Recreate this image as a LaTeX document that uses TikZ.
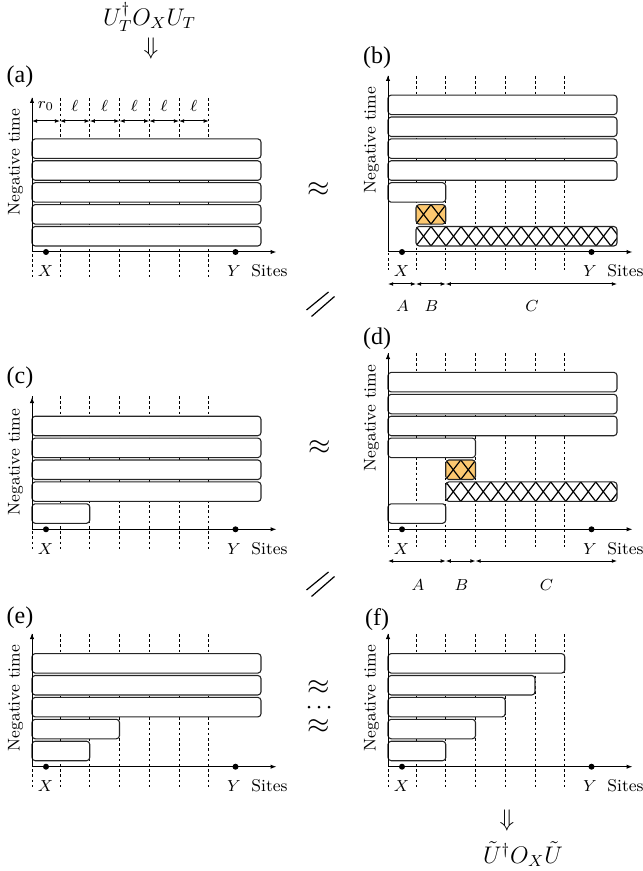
\documentclass[tikz,border=0pt]{standalone}
\usepackage{fontspec}
\newfontfamily\lblfont{Liberation Serif}
\usetikzlibrary{arrows.meta}
\definecolor{hatchorange}{RGB}{252,200,112}

\tikzset{
  every node/.style={font=\fontsize{8.5}{10}\selectfont, inner sep=0pt},
  bar/.style={draw=black!85, fill=white, rounded corners=1.6pt, line width=0.55pt},
  gridline/.style={dash pattern=on 1.3pt off 1.3pt, line width=0.4pt},
  axisline/.style={line width=0.5pt, -{Latex[length=3pt,width=2.2pt]}},
  span/.style={line width=0.5pt, {Latex[length=2.6pt,width=2pt]}-{Latex[length=2.6pt,width=2pt]}},
  panel/.style={font=\lblfont\fontsize{12}{13}\selectfont},
  site/.style={circle, fill=black, minimum size=3pt},
  dotmark/.style={circle, fill=black, minimum size=1.5pt},
  hatchline/.style={line width=0.6pt},
  bigsym/.style={font=\fontsize{14}{16}\selectfont},
  formula/.style={font=\fontsize{12}{14}\selectfont},
}

% dotted site separators: x origin, y top, y bottom
\newcommand\figgrid[3]{%
  \foreach \g in {0,28,57.75,87.5,117.25,147,176.75}
    {\draw[gridline] ({#1+\g},#2) -- ({#1+\g},#3);}}

% plain gate layer: x origin, y origin, row, left offset, right offset
\newcommand\figbar[5]{%
  \draw[bar] ({#1+#4},{#2-25.5-21.9*#3}) rectangle ({#1+#5},{#2-6-21.9*#3});}

% cross-hatched gate layer: x origin, y origin, row, left, right, fill
\newcommand\fighatch[6]{%
  \pgfmathsetmacro\hxa{#1+#4}%
  \pgfmathsetmacro\hxb{#1+#5}%
  \pgfmathsetmacro\hyb{#2-6-21.9*#3}%
  \pgfmathsetmacro\hyt{\hyb-19.5}%
  \pgfmathsetmacro\hym{\hyb-9.75}%
  \pgfmathtruncatemacro\hn{(#5-#4)/15+1}%
  \begin{scope}
    \clip[rounded corners=1.6pt] (\hxa,\hyt) rectangle (\hxb,\hyb);
    \fill[#6] (\hxa,\hyt) rectangle (\hxb,\hyb);
    \foreach \k in {-1,...,\hn}{
      \pgfmathsetmacro\hc{\hxa+7.5+15*\k}
      \draw[hatchline] ({\hc-15},{\hym+19.5}) -- ({\hc+15},{\hym-19.5});
      \draw[hatchline] ({\hc-15},{\hym-19.5}) -- ({\hc+15},{\hym+19.5});
    }
  \end{scope}
  \draw[bar, fill=none] (\hxa,\hyt) rectangle (\hxb,\hyb);}

% axes, sites and axis labels: name, x origin, y origin, y top
\newcommand\figaxes[4]{%
  \coordinate (#1-o) at (#2,#3);
  \coordinate (#1-t) at (#2,#4);
  \coordinate (#1-e) at ({#2+244.5},#3);
  \draw[axisline] (#1-o) -- (#1-t);
  \draw[axisline] (#1-o) -- (#1-e);
  \node[site] (#1-x) at ({#2+14},#3) {};
  \node[site] (#1-y) at ({#2+203.5},#3) {};
  \node[anchor=base] (#1-xl) at ({#2+13.5},{#3+25}) {$X$};
  \node[anchor=base] (#1-yl) at ({#2+202},{#3+25}) {$Y$};
  \node[anchor=base] (#1-s) at ({#2+237.5},{#3+25}) {Sites};
  \node[rotate=90] (#1-nt) at ({#2-16.5},{#4+65}) {Negative time};}

% "//" sign centred on a point
\newcommand\figslash[2]{%
  \draw[line width=0.6pt] ({#1-14},{#2+6}) -- ({#1+8},{#2-12});
  \draw[line width=0.6pt] ({#1-9},{#2+12.5}) -- ({#1+14},{#2-7.5});}

\begin{document}
\begin{tikzpicture}[x=0.5pt, y=-0.5pt]
\useasboundingbox (0,0) rectangle (642,871);

% top and bottom operators
\node[formula] (opT) at (149.5,17) {$U_T^\dagger O_X U_T$};
\node[formula] (impT) at (151,49) {$\Downarrow$};
\node[formula] (impB) at (507,820) {$\Downarrow$};
\node[formula] (opB) at (523,854) {$\tilde U^\dagger O_X \tilde U$};

% ---------------- (a) ----------------
\node[panel] (la) at (20,77) {(a)};
\figgrid{32}{98}{277}
\foreach \r in {0,...,4} {\figbar{32}{252}{\r}{0}{229}}
\draw[span] (32,121) -- (60,121);
\foreach \a/\b in {60/89.75,89.75/119.5,119.5/149.25,149.25/179,179/208.75}
  {\draw[span] (\a,121) -- (\b,121);}
\node (r0) at (46,106) {$r_0$};
\foreach \m [count=\i] in {74.9,104.6,134.4,164.1,193.9}
  {\node (ell\i) at (\m,106) {$\ell$};}
\figaxes{a}{32}{252}{97}

% ---------------- (b) ----------------
\node[panel] (lb) at (377,58) {(b)};
\figgrid{388}{76}{270}
\foreach \r in {3,...,6} {\figbar{388}{252}{\r}{0}{229}}
\figbar{388}{252}{2}{0}{57.75}
\fighatch{388}{252}{1}{28}{57.75}{hatchorange}
\fighatch{388}{252}{0}{28}{229}{white}
\figaxes{b}{388}{252}{75}
\coordinate (bA) at (388,284);
\coordinate (bB) at (416,284);
\coordinate (bC) at (445.75,284);
\coordinate (bD) at (617,284);
\draw[span] (bA) -- (bB);
\draw[span] (bB) -- (bC);
\draw[span] (bC) -- (bD);
\node (bAl) at (402.5,306) {$A$};
\node (bBl) at (431.5,306) {$B$};
\node (bCl) at (532,306) {$C$};

% ---------------- (c) ----------------
\node[panel] (lc) at (20,378) {(c)};
\figgrid{32}{396}{550}
\foreach \r in {1,...,4} {\figbar{32}{529.3}{\r}{0}{229}}
\figbar{32}{529.3}{0}{0}{57.75}
\figaxes{c}{32}{529.3}{397}

% ---------------- (d) ----------------
\node[panel] (ld) at (377,338.5) {(d)};
\figgrid{388}{353}{547}
\foreach \r in {4,...,6} {\figbar{388}{529.3}{\r}{0}{229}}
\figbar{388}{529.3}{3}{0}{87.5}
\fighatch{388}{529.3}{2}{57.75}{87.5}{hatchorange}
\fighatch{388}{529.3}{1}{57.75}{229}{white}
\figbar{388}{529.3}{0}{0}{57.75}
\figaxes{d}{388}{529.3}{353}
\coordinate (dA) at (388,561);
\coordinate (dB) at (445.75,561);
\coordinate (dC) at (475.5,561);
\coordinate (dD) at (617,561);
\draw[span] (dA) -- (dB);
\draw[span] (dB) -- (dC);
\draw[span] (dC) -- (dD);
\node (dAl) at (418,585) {$A$};
\node (dBl) at (461.5,585) {$B$};
\node (dCl) at (546.5,585) {$C$};

% ---------------- (e) ----------------
\node[panel] (le) at (20,618) {(e)};
\figgrid{32}{634}{788}
\foreach \r in {2,...,4} {\figbar{32}{766.7}{\r}{0}{229}}
\figbar{32}{766.7}{1}{0}{87.5}
\figbar{32}{766.7}{0}{0}{57.75}
\figaxes{e}{32}{766.7}{633}

% ---------------- (f) ----------------
\node[panel] (lf) at (377,620) {(f)};
\figgrid{388}{634}{788}
\figbar{388}{766.7}{4}{0}{176.75}
\figbar{388}{766.7}{3}{0}{147}
\figbar{388}{766.7}{2}{0}{117.25}
\figbar{388}{766.7}{1}{0}{87.5}
\figbar{388}{766.7}{0}{0}{57.75}
\figaxes{f}{388}{766.7}{633}

% relations between the panels
\node[bigsym] (ap1) at (319,190) {$\approx$};
\node[bigsym] (ap2) at (320,448) {$\approx$};
\figslash{320.5}{304}
\figslash{320.5}{584}
\node[bigsym] (ap3) at (319,688) {$\approx$};
\foreach \dx [count=\i] in {309,319,329}
  {\node[dotmark] (dot\i) at (\dx,707) {};}
\node[bigsym] (ap4) at (319,727) {$\approx$};
\end{tikzpicture}
\end{document}
